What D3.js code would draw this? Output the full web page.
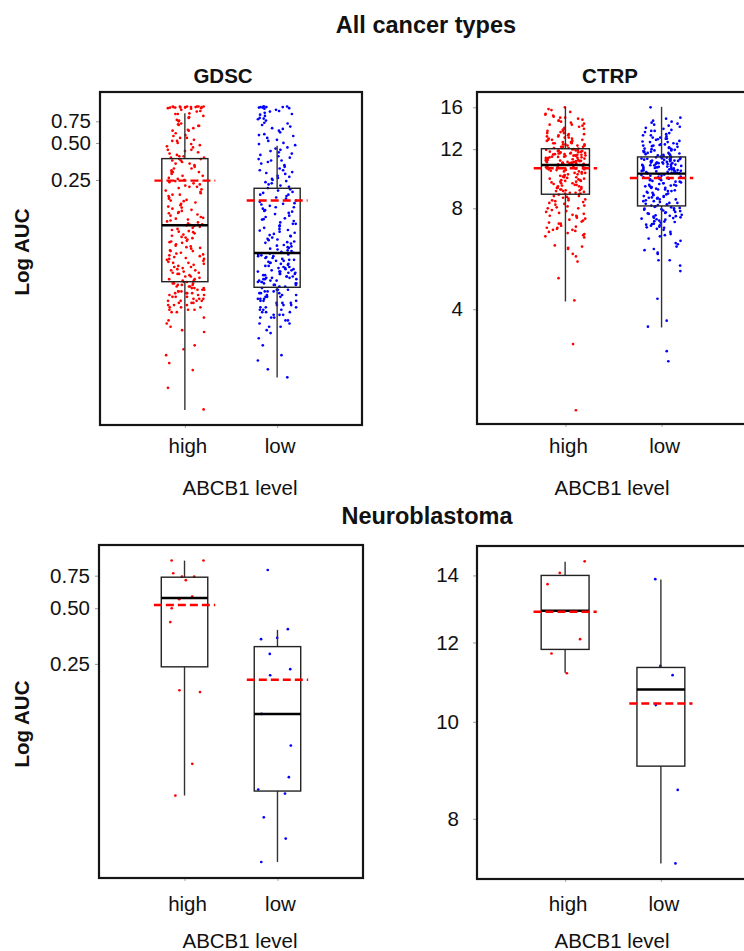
<!DOCTYPE html>
<html>
<head>
<meta charset="utf-8">
<script src="https://cdn.jsdelivr.net/npm/d3@7"></script>
<style>
  html, body { margin: 0; padding: 0; background: #fff; }
  svg { display: block; font-family: "Liberation Sans", Arial, Helvetica, sans-serif; }
</style>
</head>
<body>
<svg id="chart" width="744" height="951"></svg>
<script>
// ABCB1 expression groups
const groups = ["high", "low"];

// ---- All cancer types, GDSC (AUC) ----
const gdscAllHigh = [
  0.99, 0.98, 0.97, 0.99, 0.96, 0.98, 0.99, 0.97, 0.98, 0.95, 0.99, 0.97, 0.98, 0.96, 0.99, 0.98, 0.97, 0.99,
  0.93, 0.91, 0.90, 0.87, 0.86, 0.86, 0.83, 0.81, 0.80, 0.77, 0.76, 0.75, 0.72, 0.71, 0.70, 0.69, 0.66, 0.64,
  0.63, 0.63, 0.60, 0.58, 0.57, 0.55, 0.55, 0.53, 0.52, 0.50, 0.49, 0.48, 0.47, 0.46, 0.44, 0.44, 0.43, 0.42,
  0.41, 0.40, 0.39, 0.39, 0.38, 0.38, 0.37, 0.69, 0.52,
  0.37, 0.36, 0.36, 0.35, 0.34, 0.34, 0.33, 0.32, 0.31, 0.31, 0.30, 0.29, 0.29, 0.28, 0.27, 0.27, 0.26, 0.255,
  0.25, 0.245, 0.24, 0.235, 0.23, 0.225, 0.22, 0.215, 0.21, 0.205, 0.20, 0.195, 0.19, 0.185, 0.18, 0.176, 0.172,
  0.168, 0.164, 0.16, 0.156, 0.152, 0.149, 0.146, 0.143, 0.14, 0.137, 0.134, 0.131, 0.128, 0.125, 0.123, 0.121,
  0.119, 0.117, 0.115, 0.113, 0.111, 0.109, 0.108, 0.107, 0.29, 0.22, 0.17, 0.135, 0.25, 0.19,
  0.106, 0.104, 0.102, 0.10, 0.098, 0.096, 0.094, 0.092, 0.09, 0.088, 0.086, 0.084, 0.082, 0.08, 0.078, 0.077,
  0.075, 0.073, 0.072, 0.07, 0.069, 0.067, 0.066, 0.064, 0.063, 0.062, 0.06, 0.059, 0.058, 0.057, 0.056, 0.055,
  0.054, 0.053, 0.052, 0.051, 0.05, 0.049, 0.048, 0.047, 0.046, 0.045, 0.044, 0.043, 0.043, 0.042, 0.041, 0.041,
  0.04, 0.039, 0.039, 0.038, 0.038, 0.037, 0.085, 0.071, 0.061, 0.053, 0.046, 0.095, 0.079, 0.066, 0.057, 0.049, 0.044,
  0.037, 0.036, 0.036, 0.035, 0.035, 0.034, 0.034, 0.033, 0.033, 0.032, 0.032, 0.031, 0.031, 0.030, 0.030, 0.029,
  0.029, 0.028, 0.028, 0.027, 0.027, 0.026, 0.026, 0.026, 0.025, 0.025, 0.024, 0.024, 0.023, 0.023, 0.023, 0.022,
  0.022, 0.021, 0.021, 0.036, 0.033, 0.030, 0.027, 0.025, 0.035, 0.031, 0.028, 0.024, 0.032, 0.029, 0.026, 0.034,
  0.022, 0.03,
  0.019, 0.018, 0.017, 0.016, 0.015, 0.0145, 0.0113, 0.0105, 0.0094, 0.0081, 0.0071, 0.0051, 0.0034
];
const gdscAllLow = [
  0.99, 0.98, 0.97, 0.99, 0.98, 0.96, 0.99, 0.97, 0.98, 0.95,
  0.93, 0.9, 0.88, 0.85, 0.83, 0.8, 0.78, 0.76, 0.73, 0.7, 0.68, 0.66, 0.63, 0.61, 0.59, 0.57, 0.55, 0.53, 0.52, 0.5,
  0.91, 0.86, 0.79, 0.72, 0.65, 0.58,
  0.49, 0.48, 0.46, 0.45, 0.44, 0.42, 0.41, 0.4, 0.39, 0.38, 0.37, 0.36, 0.35, 0.34, 0.33, 0.32, 0.31, 0.3, 0.29,
  0.285, 0.28, 0.27, 0.265, 0.26, 0.25, 0.245, 0.24, 0.235, 0.23, 0.225, 0.22, 0.215, 0.43, 0.36, 0.3, 0.255,
  0.21, 0.205, 0.2, 0.196, 0.19, 0.185, 0.18, 0.176, 0.17, 0.166, 0.162, 0.158, 0.154, 0.15, 0.146, 0.142, 0.138,
  0.135, 0.132, 0.128, 0.125, 0.122, 0.119, 0.116, 0.113, 0.11, 0.107, 0.105, 0.102, 0.1, 0.098, 0.095, 0.093,
  0.091, 0.089, 0.087, 0.085, 0.083, 0.081, 0.079, 0.077, 0.076, 0.074, 0.072, 0.071, 0.069, 0.068, 0.067, 0.066,
  0.065, 0.064, 0.19, 0.16, 0.14, 0.12, 0.097, 0.082, 0.073, 0.11, 0.088, 0.07, 0.15, 0.078,
  0.063, 0.062, 0.061, 0.06, 0.059, 0.058, 0.057, 0.056, 0.055, 0.054, 0.053, 0.052, 0.051, 0.05, 0.049, 0.048,
  0.048, 0.047, 0.046, 0.045, 0.045, 0.044, 0.043, 0.043, 0.042, 0.041, 0.041, 0.04, 0.04, 0.039, 0.039, 0.038,
  0.038, 0.037, 0.037, 0.036, 0.036, 0.035, 0.035, 0.034, 0.034, 0.062, 0.058, 0.055, 0.052, 0.049, 0.046, 0.044,
  0.042, 0.04, 0.038, 0.036, 0.06, 0.056, 0.05, 0.047, 0.043, 0.039, 0.035, 0.053, 0.045, 0.041, 0.037,
  0.033, 0.032, 0.032, 0.031, 0.031, 0.03, 0.03, 0.029, 0.029, 0.028, 0.028, 0.027, 0.027, 0.026, 0.026, 0.025,
  0.025, 0.024, 0.024, 0.023, 0.023, 0.022, 0.022, 0.021, 0.021, 0.02, 0.02, 0.019, 0.019, 0.018, 0.018, 0.017,
  0.017, 0.016, 0.016, 0.015, 0.032, 0.03, 0.028, 0.026, 0.024, 0.022, 0.02, 0.031, 0.027, 0.023, 0.019, 0.029,
  0.025, 0.021,
  0.0142, 0.0129, 0.0113, 0.0094, 0.0085, 0.0072, 0.0062
];

// ---- All cancer types, CTRP (AUC) ----
const ctrpAllHigh = [
  16.0, 15.8, 15.7, 15.5, 15.3, 15.2, 15.0, 14.9, 14.8, 14.7, 14.6, 14.5, 14.4, 14.3, 14.2, 14.1, 14.0, 13.9,
  13.8, 13.7, 13.6, 13.5, 13.4, 13.3, 13.3, 13.2, 13.1, 13.0, 13.0, 12.9, 12.8, 12.8, 12.7, 12.7, 12.6, 12.6,
  12.5, 12.5, 12.4, 12.4, 12.3, 12.3, 12.2, 12.2, 12.1, 12.1, 12.05, 14.6, 14.2, 13.8, 13.4, 13.1, 12.9, 12.6,
  12.3, 14.9, 13.6, 12.8, 12.4, 12.2, 15.1, 13.2, 12.5,
  12.0, 11.98, 11.95, 11.9, 11.88, 11.85, 11.8, 11.78, 11.75, 11.7, 11.68, 11.65, 11.6, 11.58, 11.55, 11.5,
  11.48, 11.45, 11.4, 11.38, 11.35, 11.3, 11.28, 11.25, 11.2, 11.18, 11.15, 11.1, 11.08, 11.05, 11.0, 10.98,
  10.95, 10.92, 10.9, 10.88, 10.85, 10.82, 10.8, 10.78, 11.9, 11.7, 11.5, 11.3, 11.1, 10.9, 11.6, 11.4, 11.2,
  11.0, 10.85, 11.85, 11.45, 11.05, 11.75, 11.35, 10.95, 11.65, 11.25, 10.8, 11.55, 11.15, 10.9,
  10.75, 10.7, 10.65, 10.6, 10.55, 10.5, 10.45, 10.4, 10.35, 10.3, 10.25, 10.2, 10.15, 10.1, 10.05, 10.0, 9.95,
  9.9, 9.85, 9.8, 9.75, 9.7, 9.65, 9.6, 9.55, 9.5, 9.45, 9.4, 9.35, 9.3, 9.25, 9.2, 9.15, 9.1, 9.05, 9.0, 8.95,
  8.9, 8.85, 8.82, 10.6, 10.4, 10.2, 10.0, 9.8, 9.6, 9.4, 9.2, 9.0, 10.5, 10.1, 9.7, 9.3, 8.9, 10.3, 9.9, 9.5,
  9.1, 10.7, 10.45, 9.65, 9.05, 8.85,
  8.78, 8.7, 8.65, 8.6, 8.5, 8.45, 8.4, 8.3, 8.25, 8.2, 8.1, 8.05, 8.0, 7.9, 7.85, 7.8, 7.7, 7.65, 7.6, 7.5,
  7.45, 7.4, 7.3, 7.25, 7.2, 7.1, 7.05, 7.0, 6.9, 6.85, 6.8, 6.7, 6.6, 6.55, 8.55, 8.15, 7.75, 7.35, 6.95, 8.35,
  7.55, 6.75, 8.0, 7.2, 6.65, 8.7, 7.0, 8.45, 7.6, 6.9,
  6.2, 6.15, 6.1, 6.05, 5.85, 5.75, 5.55, 4.95, 4.25, 3.15, 2.0
];
const ctrpAllLow = [
  16.0, 14.9, 14.8, 14.6, 14.5, 14.4, 14.3, 14.2, 14.1, 14.0, 13.9, 13.8, 13.7, 13.6, 13.5, 13.4, 13.3, 13.2,
  13.1, 13.0, 12.9, 12.85, 12.8, 12.7, 12.65, 12.6, 12.5, 12.45, 12.4, 12.35, 12.3, 12.25, 12.2, 12.15, 12.1,
  12.05, 12.0, 11.95, 11.9, 11.85, 11.8, 11.75, 11.7, 11.65, 11.6, 11.55, 11.5, 11.45, 11.4, 13.6, 13.2, 12.9,
  12.6, 12.3, 12.0, 11.8, 11.6, 13.0, 12.4, 12.1, 11.9, 11.7, 11.5,
  11.36, 11.33, 11.3, 11.27, 11.24, 11.2, 11.17, 11.14, 11.1, 11.07, 11.04, 11.0, 10.97, 10.94, 10.9, 10.87,
  10.84, 10.8, 10.77, 10.74, 10.7, 10.67, 10.64, 10.6, 10.57, 10.54, 10.5, 10.47, 10.44, 10.4, 10.37, 10.34,
  10.3, 10.27, 10.24, 10.2, 10.17, 11.3, 11.1, 10.9, 10.7, 10.5, 10.3, 11.2, 11.0, 10.8, 10.6, 10.4, 10.2,
  11.25, 10.95, 10.65, 10.35, 11.15, 10.85, 10.55, 10.25, 11.05, 10.75, 10.45, 10.18, 11.35, 10.92,
  10.1, 10.05, 10.0, 9.95, 9.9, 9.85, 9.8, 9.75, 9.7, 9.65, 9.6, 9.55, 9.5, 9.45, 9.4, 9.35, 9.3, 9.25, 9.2,
  9.15, 9.1, 9.05, 9.0, 8.95, 8.9, 8.85, 8.8, 8.75, 8.7, 8.65, 8.6, 8.55, 8.5, 8.45, 8.4, 8.35, 8.3, 8.25, 8.2,
  8.15, 10.0, 9.7, 9.4, 9.1, 8.8, 8.5, 8.2, 9.9, 9.6, 9.3, 9.0, 8.7, 8.4, 9.8, 9.5, 9.2, 8.9, 8.6, 8.3, 10.08,
  9.35, 8.62, 8.18,
  8.1, 8.05, 8.0, 7.95, 7.9, 7.85, 7.8, 7.75, 7.7, 7.65, 7.6, 7.55, 7.5, 7.45, 7.4, 7.35, 7.3, 7.25, 7.2, 7.15,
  7.1, 7.05, 7.0, 8.08, 7.92, 7.78, 7.62, 7.48, 7.32, 7.18, 7.02, 8.02, 7.88, 7.72, 7.58, 7.42, 7.28, 7.12,
  7.98, 7.52,
  6.95, 6.9, 6.8, 6.7, 6.65, 6.6, 6.5, 6.4, 6.3, 6.25, 6.15, 6.05, 6.0, 5.9, 5.85,
  5.6, 5.6, 5.4, 5.2, 4.3, 3.7, 3.55, 3.0, 2.8
];

// ---- Neuroblastoma ----
const gdscNbHigh = [0.906, 0.906, 0.773, 0.741, 0.741, 0.709, 0.578, 0.56, 0.50, 0.421, 0.176, 0.180, 0.072, 0.0485];
const gdscNbLow = [0.805, 0.385, 0.34, 0.346, 0.283, 0.234, 0.217, 0.134, 0.0904, 0.061, 0.0523, 0.0497, 0.037, 0.0284, 0.0212];
const ctrpNbHigh = [14.46, 14.08, 13.72, 12.09, 11.70, 11.18];
const ctrpNbLow = [13.88, 11.37, 11.13, 10.39, 8.55, 7.22];

// Box summaries: [lower whisker, Q1, median, Q3, upper whisker]
const gdscAllHighBox = [0.00337, 0.0372, 0.107, 0.373, 0.872];
const gdscAllLowBox  = [0.00618, 0.0335, 0.0637, 0.214, 0.475];
const ctrpAllHighBox = [4.22, 8.81, 10.77, 12.04, 16.0];
const ctrpAllLowBox  = [3.53, 8.13, 10.15, 11.38, 16.05];
const gdscNbHighBox  = [0.0485, 0.241, 0.568, 0.736, 0.905];
const gdscNbLowBox   = [0.0212, 0.0513, 0.134, 0.31, 0.382];
const ctrpNbHighBox  = [11.19, 11.81, 12.91, 14.0, 14.45];
const ctrpNbLowBox   = [7.22, 9.03, 10.77, 11.33, 13.87];

// Group means (high, low)
const gdscAllMeans = [0.247, 0.170];
const ctrpAllMeans = [10.53, 9.85];
const gdscNbMeans  = [0.521, 0.205];
const ctrpNbMeans  = [12.88, 10.43];

// Axis ticks
const gdscTicks = [0.25, 0.5, 0.75];
const gdscTickLabels = ["0.25", "0.50", "0.75"];
const ctrpAllTicks = [4, 8, 12, 16];
const ctrpNbTicks = [8, 10, 12, 14];

const colors = { high: "#ff0000", low: "#0000ff" };

const svg = d3.select("#chart");

const panels = [
  { x0: 100, x1: 362, y0: 92, y1: 425, domain: [0.00254, 1.299], ticks: gdscTicks, labels: gdscTickLabels, pad: 5,
    values: [gdscAllHigh, gdscAllLow], boxes: [gdscAllHighBox, gdscAllLowBox], means: gdscAllMeans, seed: 0.11 },
  { x0: 477, x1: 750, y0: 92, y1: 424, domain: [1.82, 17.77], ticks: ctrpAllTicks, labels: ctrpAllTicks.map(String), pad: 10,
    values: [ctrpAllHigh, ctrpAllLow], boxes: [ctrpAllHighBox, ctrpAllLowBox], means: ctrpAllMeans, seed: 0.37 },
  { x0: 99, x1: 363, y0: 545, y1: 878, domain: [0.01737, 1.099], ticks: gdscTicks, labels: gdscTickLabels, pad: 5,
    values: [gdscNbHigh, gdscNbLow], boxes: [gdscNbHighBox, gdscNbLowBox], means: gdscNbMeans, seed: 0.59 },
  { x0: 477, x1: 749, y0: 546, y1: 879, domain: [6.966, 14.98], ticks: ctrpNbTicks, labels: ctrpNbTicks.map(String), pad: 14,
    values: [ctrpNbHigh, ctrpNbLow], boxes: [ctrpNbHighBox, ctrpNbLowBox], means: ctrpNbMeans, seed: 0.83 }
];

function drawPanel(p) {
  const g = svg.append("g");
  const x = d3.scalePoint().domain(groups).range([p.x0, p.x1]).padding(0.92);
  const y = d3.scaleLog().domain(p.domain).range([p.y1, p.y0]);
  const step = x.step();
  const boxW = step * 0.5;

  // y axis
  const yAxis = d3.axisLeft(y).tickValues(p.ticks).tickFormat((d, i) => p.labels[i])
    .tickSize(4).tickPadding(p.pad);
  const ya = g.append("g").attr("transform", `translate(${p.x0},0)`).call(yAxis);
  ya.select(".domain").remove();
  ya.selectAll(".tick line").attr("stroke", "#9a9a9a");
  ya.selectAll(".tick text").attr("fill", "#111").style("font-size", "20.5px")
    .style("font-family", "'Liberation Sans', Arial, sans-serif");

  // x axis (ticks only)
  const xAxis = d3.axisBottom(x).tickSize(3).tickFormat("");
  const xa = g.append("g").attr("transform", `translate(0,${p.y1})`).call(xAxis);
  xa.select(".domain").remove();
  xa.selectAll(".tick line").attr("stroke", "#aaa");

  // jittered points
  const rnd = d3.randomLcg(p.seed);
  groups.forEach((grp, gi) => {
    g.append("g").selectAll("circle")
      .data(p.values[gi])
      .join("circle")
      .attr("cx", () => x(grp) + (rnd() - 0.5) * 0.42 * step)
      .attr("cy", d => y(d))
      .attr("r", 1.35)
      .attr("fill", colors[grp]);
  });

  // box plots
  groups.forEach((grp, gi) => {
    const [lo, q1, med, q3, hi] = p.boxes[gi];
    const cx = x(grp);
    const bg = g.append("g");
    bg.append("line").attr("x1", cx).attr("x2", cx).attr("y1", y(hi)).attr("y2", y(q3))
      .attr("stroke", "#333").attr("stroke-width", 1.4);
    bg.append("line").attr("x1", cx).attr("x2", cx).attr("y1", y(q1)).attr("y2", y(lo))
      .attr("stroke", "#333").attr("stroke-width", 1.4);
    bg.append("rect").attr("x", cx - boxW / 2).attr("width", boxW)
      .attr("y", y(q3)).attr("height", y(q1) - y(q3))
      .attr("fill", "none").attr("stroke", "#222").attr("stroke-width", 1.4);
    bg.append("line").attr("x1", cx - boxW / 2).attr("x2", cx + boxW / 2)
      .attr("y1", y(med)).attr("y2", y(med))
      .attr("stroke", "#000").attr("stroke-width", 2.4);
    // group mean
    const m = p.means[gi];
    bg.append("line").attr("x1", cx - 0.33 * step).attr("x2", cx + 0.33 * step)
      .attr("y1", y(m)).attr("y2", y(m))
      .attr("stroke", "#ff0000").attr("stroke-width", 2.4).attr("stroke-dasharray", "8,4");
  });

  // panel frame
  g.append("rect").attr("x", p.x0).attr("y", p.y0)
    .attr("width", p.x1 - p.x0).attr("height", p.y1 - p.y0)
    .attr("fill", "none").attr("stroke", "#151515").attr("stroke-width", 2.2);

  return x;
}

const xs = panels.map(drawPanel);

// text
function text(str, x, y, size, bold, anchor = "middle") {
  return svg.append("text").attr("x", x).attr("y", y).attr("text-anchor", anchor)
    .style("font-size", size + "px").style("font-weight", bold ? "bold" : "normal")
    .attr("fill", "#111").text(str);
}

text("All cancer types", 426, 33, 23.5, true);
text("GDSC", 223, 83, 20.5, true);
text("CTRP", 610, 83, 20.5, true);
text("Neuroblastoma", 427, 524, 23.5, true);

// category labels
[[0, 453], [1, 453], [2, 911], [3, 911]].forEach(([i, ly]) => {
  const x = xs[i];
  groups.forEach(grp => text(grp, x(grp) + 3, ly, 20.5, false));
});
// axis titles
text("ABCB1 level", 240, 495, 20.5, false);
text("ABCB1 level", 612, 495, 20.5, false);
text("ABCB1 level", 240, 948, 20.5, false);
text("ABCB1 level", 612, 948, 20.5, false);

svg.append("text").attr("transform", "translate(29,252) rotate(-90)").attr("text-anchor", "middle")
  .style("font-size", "20.5px").style("font-weight", "bold").attr("fill", "#111").text("Log AUC");
svg.append("text").attr("transform", "translate(29,724) rotate(-90)").attr("text-anchor", "middle")
  .style("font-size", "20.5px").style("font-weight", "bold").attr("fill", "#111").text("Log AUC");
</script>
</body>
</html>
